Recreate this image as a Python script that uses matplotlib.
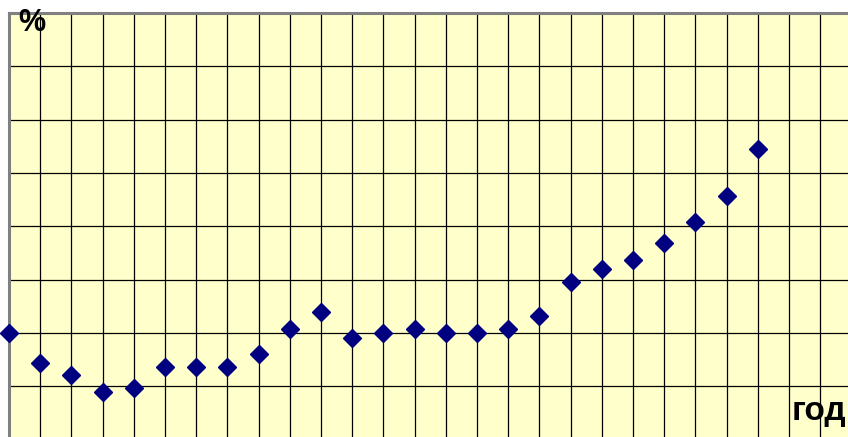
import matplotlib
matplotlib.use("Agg")
import matplotlib.pyplot as plt
import numpy as np

# values in grid units (one grid step per year / per y division)
years = list(range(25))
values = [2.00, 1.44, 1.20, 0.88, 0.96, 1.36, 1.36, 1.36, 1.60, 2.07,
          2.39, 1.91, 2.00, 2.07, 2.00, 2.00, 2.07, 2.32, 2.96, 3.20,
          3.36, 3.68, 4.08, 4.56, 5.44]

W, H = 848, 437
fig = plt.figure(figsize=(W / 100, H / 100), dpi=100)
fig.patch.set_facecolor("white")

# plot area: left edge at x=9, top at y=13, grid step 31.2 px x 53.3 px
x0, y_top, dx, dy = 9, 13, 31.2, 53.3
nx, ny = 27, 8
ax = fig.add_axes([x0 / W, (H - (y_top + ny * dy)) / H, nx * dx / W, ny * dy / H])
ax.set_facecolor("#FFFFCC")
ax.set_xlim(0, nx)
ax.set_ylim(0, ny)
ax.set_xticks(np.arange(0, nx + 1))
ax.set_yticks(np.arange(0, ny + 1))
ax.grid(True, color="black", linewidth=0.9)
ax.set_axisbelow(True)
ax.tick_params(left=False, bottom=False, labelleft=False, labelbottom=False)
for side in ["right", "bottom"]:
    ax.spines[side].set_visible(False)
for side in ["left", "top"]:
    ax.spines[side].set_color("#808080")
    ax.spines[side].set_linewidth(2.2)

ax.plot(years, values, linestyle="none", marker="D", markersize=9.5,
        color="#000080", clip_on=False, zorder=5)

fig.text(32 / W, 1 - 31 / H, "%", fontsize=22, fontweight="bold",
         family="Liberation Sans", ha="center", va="baseline")
fig.text(819 / W, 1 - 420 / H, "год", fontsize=24, fontweight="bold",
         family="Liberation Sans", ha="center", va="baseline")

fig.savefig("out.png", dpi=100)
